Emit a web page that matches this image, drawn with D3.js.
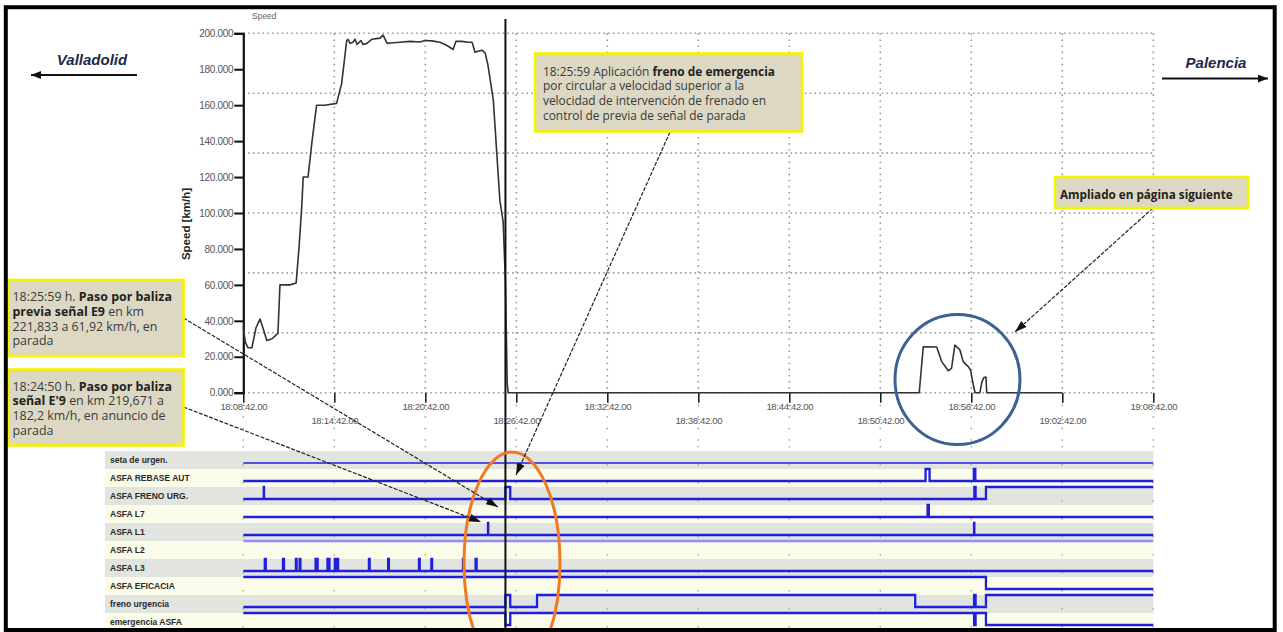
<!DOCTYPE html>
<html>
<head>
<meta charset="utf-8">
<script src="https://cdn.jsdelivr.net/npm/d3@7"></script>
<style>
  html, body { margin: 0; padding: 0; background: #fff; }
  svg { display: block; }
</style>
</head>
<body>
<svg id="chart" width="1283" height="632"></svg>
<script>
// ---- Speed record (time of day, km/h) ----
const speedTimes = [
  "18:08:42","18:08:50","18:09:01","18:09:16","18:09:32","18:09:48","18:10:00","18:10:15",
  "18:10:36","18:10:51","18:10:59","18:11:07","18:11:47","18:12:11","18:12:22","18:12:33",
  "18:12:39","18:12:58","18:13:14","18:13:32","18:14:05","18:14:51","18:15:11","18:15:31",
  "18:15:36","18:15:44","18:15:56","18:16:04","18:16:12","18:16:28","18:16:35","18:16:51",
  "18:17:11","18:17:43","18:17:55","18:18:11","18:18:22","18:19:02","18:19:41","18:20:21",
  "18:20:41","18:21:08","18:21:40","18:22:00","18:22:16","18:22:32","18:22:43","18:23:07",
  "18:23:31","18:23:47","18:23:59","18:24:11","18:24:27","18:24:39","18:24:50","18:25:11",
  "18:25:37","18:25:50","18:25:59","18:26:06","18:26:10",
  "18:53:16","18:53:32","18:54:25","18:54:45","18:55:11","18:55:24","18:55:37","18:55:57",
  "18:56:10","18:56:30","18:56:39","18:56:50","18:56:57","18:57:16","18:57:24","18:57:32",
  "18:57:40","18:57:43","19:02:42"
];
const speedValues = [
  36.7, 28, 25, 25, 36, 41, 36, 29,
  30, 32, 33, 60, 60, 61, 80, 103,
  120, 120, 140, 160, 160, 161, 172, 196,
  196.7, 194.4, 195, 196.7, 193.8, 196, 193.8, 194.4,
  196.7, 197.3, 199, 194.4, 194.6, 195, 195.5, 195.2,
  196, 195.8, 195, 193.8, 192.5, 191, 195.5, 195.5,
  195, 195, 189.5, 190, 190.6, 189, 182.2, 163,
  107, 95, 61.92, 5, 0,
  0, 25.6, 25.4, 17.3, 12.2, 13.7, 26.5, 23.8,
  17.3, 14.5, 12.6, 4.3, 0, 0, 6, 8.5,
  8.7, 0, 0
];

// ---- Axis ticks ----
const timeTicks = ["18:08:42","18:14:42","18:20:42","18:26:42","18:32:42","18:38:42",
                   "18:44:42","18:50:42","18:56:42","19:02:42","19:08:42"];
const speedTicks = [0, 20, 40, 60, 80, 100, 120, 140, 160, 180, 200];

// ---- Digital signals: [time, level] steps, level held until next step ----
const signalNames = ["seta de urgen.", "ASFA REBASE AUT", "ASFA FRENO URG.", "ASFA L7", "ASFA L1",
                     "ASFA L2", "ASFA L3", "ASFA EFICACIA", "freno urgencia", "emergencia ASFA"];
const setaUrgen      = [["18:08:42",0]];
const asfaRebaseAut  = [["18:08:42",0],["18:53:41",1],["18:53:57",0],["18:56:52",1],["18:56:58",0]];
const asfaFrenoUrg   = [["18:08:42",0],["18:10:03",1],["18:10:04",0],["18:25:59",1],["18:26:18",0],
                        ["18:56:54",1],["18:56:59",0],["18:57:40",1]];
const asfaL7         = [["18:08:42",0],["18:53:49",1],["18:53:54",0]];
const asfaL1         = [["18:08:42",0],["18:24:50",1],["18:24:51",0],["18:56:53",1],["18:56:54",0]];
const asfaL2         = [["18:08:42",1]];
const asfaL3         = [["18:08:42",0],
                        ["18:10:07",1],["18:10:11",0],["18:11:19",1],["18:11:23",0],
                        ["18:12:10",1],["18:12:13",0],["18:12:25",1],["18:12:28",0],
                        ["18:13:28",1],["18:13:36",0],["18:14:15",1],["18:14:23",0],
                        ["18:14:44",1],["18:14:48",0],["18:14:53",1],["18:14:57",0],
                        ["18:16:59",1],["18:17:02",0],["18:18:15",1],["18:18:18",0],
                        ["18:20:17",1],["18:20:20",0],["18:21:06",1],["18:21:09",0],
                        ["18:23:11",1],["18:23:14",0],["18:24:01",1],["18:24:05",0]];
const asfaEficacia   = [["18:08:42",1],["18:57:40",0]];
const frenoUrgencia  = [["18:08:42",0],["18:25:59",1],["18:26:18",0],["18:28:04",1],["18:53:00",0],
                        ["18:56:53",1],["18:56:59",0],["18:57:40",1]];
const emergenciaAsfa = [["18:08:42",1],["18:25:59",0],["18:26:18",1],["18:56:53",0],["18:56:59",1],
                        ["18:57:40",0]];
const signalSteps = [setaUrgen, asfaRebaseAut, asfaFrenoUrg, asfaL7, asfaL1,
                     asfaL2, asfaL3, asfaEficacia, frenoUrgencia, emergenciaAsfa];

// ---- Events ----
const brakeTime = "18:25:59";

// ---------------------------------------------------------------------------
const parseTime = d3.timeParse("%Y-%m-%d %H:%M:%S");
const T = s => parseTime("2000-01-01 " + s);
const fmtTime = d3.timeFormat("%H:%M:%S");

const svg = d3.select("#chart");

const x = d3.scaleTime()
  .domain([T(timeTicks[0]), T(timeTicks[timeTicks.length - 1])])
  .range([243.3, 1153.3]);
const y = d3.scaleLinear().domain([0, 200]).range([392.7, 33.3]);

const rows = d3.scaleBand().domain(signalNames).range([451, 631]).padding(0);
const level = d3.scaleLinear().domain([0, 1]).range([12, 0]);

const defs = svg.append("defs");
defs.append("marker")
  .attr("id", "tip").attr("viewBox", "0 0 12 8")
  .attr("refX", 12).attr("refY", 4)
  .attr("markerWidth", 12).attr("markerHeight", 8)
  .attr("markerUnits", "userSpaceOnUse").attr("orient", "auto")
  .append("path").attr("d", "M0,0L12,4L0,8Z").attr("fill", "#111");
defs.append("marker")
  .attr("id", "dirTip").attr("viewBox", "0 0 10 8")
  .attr("refX", 10).attr("refY", 4)
  .attr("markerWidth", 10).attr("markerHeight", 8)
  .attr("markerUnits", "userSpaceOnUse").attr("orient", "auto")
  .append("path").attr("d", "M0,0L10,4L0,8Z").attr("fill", "#111");

const narrowFont = "'Liberation Sans Narrow', 'Liberation Sans', Arial, sans-serif";

// ---- Signal panel bands ----
const bandG = svg.append("g");
bandG.selectAll("rect").data(signalNames).join("rect")
  .attr("x", 105).attr("width", x.range()[1] - 105)
  .attr("y", d => rows(d)).attr("height", rows.bandwidth())
  .attr("fill", (d, i) => i % 2 === 0 ? "#e2e4df" : "#fbfbea");

bandG.selectAll("text").data(signalNames).join("text")
  .attr("x", 110).attr("y", d => rows(d) + rows.bandwidth() / 2 + 3)
  .attr("font-family", narrowFont)
  .attr("font-size", 8.5).attr("font-weight", "bold").attr("fill", "#2a2a2a")
  .text(d => d);

// ---- Grid ----
const grid = svg.append("g").attr("stroke", "#9a9a9a").attr("fill", "none");
const gridVals = d3.range(7).map(k => k * 200 / 6);
grid.selectAll("line.h").data(gridVals).join("line").attr("class", "h")
  .attr("x1", x.range()[0]).attr("x2", x.range()[1])
  .attr("y1", d => y(d)).attr("y2", d => y(d))
  .attr("stroke-width", 1.6).attr("stroke-dasharray", "1.6,3.2");
grid.selectAll("line.v").data(timeTicks.slice(1)).join("line").attr("class", "v")
  .attr("x1", d => x(T(d))).attr("x2", d => x(T(d)))
  .attr("y1", y(200)).attr("y2", y(0))
  .attr("stroke-width", 1.6).attr("stroke-dasharray", "1.6,4.5");
grid.selectAll("line.vb").data(timeTicks).join("line").attr("class", "vb")
  .attr("x1", d => x(T(d))).attr("x2", d => x(T(d)))
  .attr("y1", y(0) + 12).attr("y2", 450)
  .attr("stroke-width", 1.4).attr("stroke-dasharray", "1.5,10");
grid.selectAll("line.vs").data(timeTicks).join("line").attr("class", "vs")
  .attr("x1", d => x(T(d))).attr("x2", d => x(T(d)))
  .attr("y1", 446).attr("y2", 631)
  .attr("stroke", "#aaa").attr("stroke-width", 1.4).attr("stroke-dasharray", "1.4,16.6");

// ---- Signal traces ----
const endTime = T(timeTicks[timeTicks.length - 1]);
const stepLine = d3.line().curve(d3.curveStepAfter);
const sigG = svg.append("g").attr("fill", "none");
signalNames.forEach((name, i) => {
  const steps = signalSteps[i].map(([t, v]) => [T(t), v]);
  steps.push([endTime, steps[steps.length - 1][1]]);
  const pts = steps.map(([t, v]) => [x(t), rows(name) + level(v)]);
  sigG.append("path")
    .attr("d", stepLine(pts))
    .attr("stroke", name === "ASFA L2" ? "#8f8ff5" : "#2020dc")
    .attr("stroke-width", name === "seta de urgen." ? 1.6 : 2.3)
    .attr("stroke-linejoin", "miter");
});

// ---- Axes ----
const yAxis = svg.append("g").attr("transform", `translate(${x.range()[0]},0)`)
  .call(d3.axisLeft(y).tickValues(speedTicks).tickFormat(d3.format(".3f")).tickSize(9).tickPadding(1));
yAxis.select(".domain").attr("stroke", "#111").attr("stroke-width", 2.2);
yAxis.selectAll(".tick line").attr("stroke", "#111").attr("stroke-width", 2);
yAxis.selectAll(".tick text")
  .attr("font-family", narrowFont)
  .attr("font-size", 10).attr("fill", "#555").attr("letter-spacing", "-0.3");

const xAxis = svg.append("g").attr("transform", `translate(0,${y(0)})`)
  .call(d3.axisBottom(x).tickValues(timeTicks.map(T)).tickSize(10)
    .tickFormat(d => fmtTime(d) + ".00"));
xAxis.select(".domain").remove();
xAxis.selectAll(".tick line").attr("stroke", "#222").attr("stroke-width", 1.6);
xAxis.selectAll(".tick text")
  .attr("font-family", narrowFont)
  .attr("font-size", 9.6).attr("fill", "#555").attr("letter-spacing", "-0.35")
  .attr("y", (d, i) => i % 2 === 0 ? 10.5 : 24.5);

svg.append("text").attr("x", 252).attr("y", 19)
  .attr("font-family", narrowFont)
  .attr("font-size", 8.5).attr("fill", "#666").text("Speed");

svg.append("text")
  .attr("transform", "translate(189.5,224) rotate(-90)")
  .attr("text-anchor", "middle")
  .attr("font-family", "'Liberation Sans', Arial, sans-serif")
  .attr("font-size", 11.5).attr("font-weight", "bold").attr("fill", "#222")
  .text("Speed [km/h]");

// ---- Speed trace ----
const speedData = speedTimes.map((t, i) => [T(t), speedValues[i]]);
svg.append("path")
  .attr("d", d3.line().x(d => x(d[0])).y(d => y(d[1]))(speedData))
  .attr("fill", "none").attr("stroke", "#333").attr("stroke-width", 1.6)
  .attr("stroke-linejoin", "round");

// ---- Cursor at emergency brake ----
svg.append("line")
  .attr("x1", x(T(brakeTime))).attr("x2", x(T(brakeTime)))
  .attr("y1", 19).attr("y2", 632)
  .attr("stroke", "#111").attr("stroke-width", 2);

// ---- Highlight rings ----
svg.append("ellipse")
  .attr("cx", 512).attr("cy", 563).attr("rx", 48).attr("ry", 111)
  .attr("fill", "none").attr("stroke", "#ef7a22").attr("stroke-width", 3);
svg.append("ellipse")
  .attr("cx", 957.5).attr("cy", 379.5).attr("rx", 62.5).attr("ry", 65)
  .attr("fill", "none").attr("stroke", "#3d6191").attr("stroke-width", 3);

// ---- Callout leaders ----
const leaders = [
  [670, 132, 516, 475],
  [183.5, 318, 498, 507],
  [183.5, 407, 481, 522],
  [1153, 208, 1015, 332]
];
svg.append("g").selectAll("line").data(leaders).join("line")
  .attr("x1", d => d[0]).attr("y1", d => d[1]).attr("x2", d => d[2]).attr("y2", d => d[3])
  .attr("stroke", "#222").attr("stroke-width", 1.2).attr("stroke-dasharray", "4,1.5")
  .attr("marker-end", "url(#tip)");

// ---- Callout boxes ----
function callout(bx, by, bw, bh, lines, tx, ty0, lh, size) {
  const g = svg.append("g");
  g.append("rect").attr("x", bx).attr("y", by).attr("width", bw).attr("height", bh)
    .attr("fill", "#dcd8c3").attr("stroke", "#f6f300").attr("stroke-width", 2.6);
  const t = g.append("text")
    .attr("font-family", "'Open Sans', Lato, sans-serif")
    .attr("font-size", size).attr("fill", "#3a3a3a");
  lines.forEach((segs, i) => {
    const line = t.append("tspan").attr("x", tx).attr("y", ty0 + i * lh);
    segs.forEach(([s, b]) => {
      line.append("tspan").attr("font-weight", b ? "bold" : "normal")
        .attr("fill", b ? "#222" : "#3a3a3a").text(s);
    });
  });
}
callout(535, 53.5, 267, 78, [
  [["18:25:59 Aplicación ", 0], ["freno de emergencia", 1]],
  [["por circular a velocidad superior a la", 0]],
  [["velocidad de intervención de frenado en", 0]],
  [["control de previa de señal de parada", 0]]
], 543, 75.5, 14.8, 11.9);
callout(1055, 177, 193, 31, [
  [["Ampliado en página siguiente", 1]]
], 1060, 198.5, 14, 11.7);
callout(8.5, 280, 175, 76, [
  [["18:25:59 h. ", 0], ["Paso por baliza", 1]],
  [["previa señal E9", 1], [" en km", 0]],
  [["221,833 a 61,92 km/h, en", 0]],
  [["parada", 0]]
], 12.5, 301, 14.8, 12.4);
callout(8.5, 369.5, 175, 76, [
  [["18:24:50 h. ", 0], ["Paso por baliza", 1]],
  [["señal E'9", 1], [" en km 219,671 a", 0]],
  [["182,2 km/h, en anuncio de", 0]],
  [["parada", 0]]
], 12.5, 390.5, 14.8, 12.4);

// ---- Direction labels ----
const dirFont = "'Liberation Sans', Arial, sans-serif";
svg.append("text").attr("x", 92).attr("y", 65).attr("text-anchor", "middle")
  .attr("font-family", dirFont).attr("font-size", 15).attr("font-weight", "bold")
  .attr("font-style", "italic").attr("fill", "#202a48").text("Valladolid");
svg.append("line").attr("x1", 137).attr("y1", 75).attr("x2", 31).attr("y2", 75)
  .attr("stroke", "#111").attr("stroke-width", 2).attr("marker-end", "url(#dirTip)");
svg.append("text").attr("x", 1216).attr("y", 68).attr("text-anchor", "middle")
  .attr("font-family", dirFont).attr("font-size", 15).attr("font-weight", "bold")
  .attr("font-style", "italic").attr("fill", "#202a48").text("Palencia");
svg.append("line").attr("x1", 1162).attr("y1", 78.5).attr("x2", 1268).attr("y2", 78.5)
  .attr("stroke", "#111").attr("stroke-width", 2).attr("marker-end", "url(#dirTip)");

// ---- Page frame ----
svg.append("rect").attr("x", 5.8).attr("y", 7.2).attr("width", 1268.9).attr("height", 622.8)
  .attr("fill", "none").attr("stroke", "#000").attr("stroke-width", 4);
</script>
</body>
</html>
